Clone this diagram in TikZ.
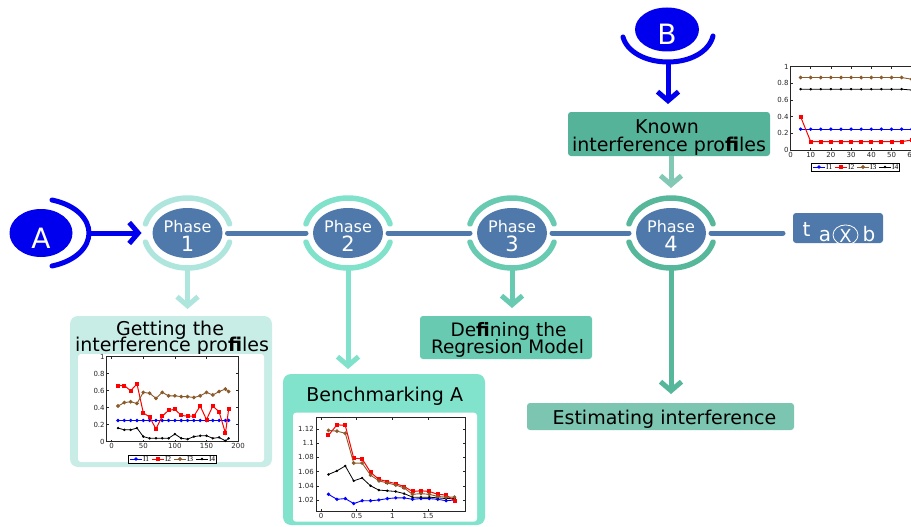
\documentclass[tikz,border=0pt]{standalone}
\usepackage{fontspec}
\setmainfont{DejaVu Sans}
\newfontfamily\legfont{Liberation Serif}
\usetikzlibrary{arrows.meta,calc,shapes.geometric,plotmarks}
\definecolor{steel}{HTML}{4E79AA}
\definecolor{ablue}{HTML}{0000EE}
\definecolor{cA}{HTML}{AEE6DD}
\definecolor{cAbox}{HTML}{C8EDE6}
\definecolor{cB}{HTML}{80E2CB}
\definecolor{cBbox}{HTML}{82E3CD}
\definecolor{cC}{HTML}{67CAB1}
\definecolor{cD}{HTML}{56B79B}
\definecolor{cDbox}{HTML}{7CC6B1}
\definecolor{knbox}{HTML}{55B399}
\definecolor{knarr}{HTML}{82C8B4}
\definecolor{brownc}{HTML}{8B5A2B}
\newcommand\fsz[1]{\fontsize{#1}{#1}\selectfont}
\tikzset{
  every node/.style={inner sep=0pt, outer sep=0pt},
  phase/.style={ellipse, fill=steel, minimum width=70pt, minimum height=50pt},
  phword/.style={text=white, font=\fsz{16}, anchor=base},
  phnum/.style={text=white, font=\fsz{21}, anchor=base},
  ringst/.style={line width=5.5pt, line cap=round},
  link/.style={draw=steel, line width=5pt, line cap=round},
  darr/.style={line width=5pt, -{Straight Barb[length=9pt,width=21pt]}},
  box/.style={rectangle, rounded corners=3pt},
  btxt/.style={text=black, font=\fsz{19}, anchor=base},
  tick/.style={text=black!85, font=\fsz{7}},
  frame/.style={draw=black!85, line width=0.7pt},
  tickl/.style={draw=black!85, line width=0.5pt},
  ser1/.style={blue, line width=0.9pt, mark=*, mark size=1.2pt},
  ser2/.style={red, line width=1pt, mark=square*, mark size=1.5pt},
  ser3/.style={brownc, line width=0.9pt, mark=*, mark size=1.4pt},
  ser4/.style={black, line width=0.8pt, mark=*, mark size=0.8pt},
}
\newcommand\drawlegend[3]{%
  \draw[line width=0.5pt, fill=white] (#1,#2-4) rectangle (#1+88,#2+4);
  \foreach \st/\lb [count=\k from 0] in {ser1/I1,ser2/I2,ser3/I3,ser4/I4}{
    \draw[\st] (#1+2+22*\k,#2) -- (#1+14+22*\k,#2);
    \draw[\st] plot coordinates {(#1+8+22*\k,#2)};
    \node[anchor=west, font=\legfont\fsz{7.5}] (#3\k) at (#1+15+22*\k,#2) {\lb};
  }%
}
\begin{document}
\begin{tikzpicture}[x=1pt,y=-1pt]
\clip (0,0) rectangle (911,527);
\fill[white] (0,0) rectangle (911,527);

% ---------- phases
\node[phase] (p1) at (187.5,233) {};
\node[phase] (p2) at (348,233) {};
\node[phase] (p3) at (512,233) {};
\node[phase] (p4) at (671,233) {};
\foreach \p/\c/\n in {p1/cA/1,p2/cB/2,p3/cC/3,p4/cD/4}{
  \draw[ringst, \c] ($(\p.center)+(42.02,-9.06)$) arc[start angle=15, end angle=165, x radius=43.5pt, y radius=35pt];
  \draw[ringst, \c] ($(\p.center)+(42.02,9.06)$) arc[start angle=-15, end angle=-165, x radius=43.5pt, y radius=35pt];
  \node[phword] (\p w) at ($(\p.center)+(0,-1)$) {Phase};
  \node[phnum] (\p n) at ($(\p.center)+(0,18)$) {\n};
}
\draw[link] ($(p1.east)+(5,0)$) -- ($(p2.west)+(-7,0)$);
\draw[link] ($(p2.east)+(5,0)$) -- ($(p3.west)+(-7,0)$);
\draw[link] ($(p3.east)+(5,0)$) -- ($(p4.west)+(-7,0)$);

% ---------- t a x b
\node[box, fill=steel, minimum width=90pt, minimum height=30pt] (tb) at (838,228) {};
\draw[link] ($(p4.east)+(5,0)$) -- ($(p4.east -| tb.west)+(-10,0)$);
\node[text=white, font=\fsz{20}, anchor=base] (tt) at (806.5,236.7) {t};
\node[text=white, font=\fsz{20}, anchor=base] (ta) at (825,241.7) {a};
\node[text=white, font=\fsz{18}, anchor=base] (tx) at (845.5,242.5) {X};
\draw[white, line width=0.8pt] (tx.center) ++(0,-1) ellipse [x radius=12.5pt, y radius=10pt];
\node[text=white, font=\fsz{20}, anchor=base] (tbv) at (869,241.7) {b};

% ---------- A
\node[ellipse, fill=ablue, minimum width=63pt, minimum height=48pt] (A) at (41,233) {};
\node[text=white, font=\fsz{28}, anchor=base] (At) at (41,248) {A};
\coordinate (Abr) at (89,233);
\draw[ablue, line width=5pt, line cap=round] (52,200) .. controls (76,205) and (89,219) .. (Abr) .. controls (89,247) and (76,261) .. (52,266);
\draw[darr, ablue] (Abr) -- ($(p1.center)+(-46,0)$);

% ---------- B
\node[ellipse, fill=ablue, minimum width=64pt, minimum height=44pt] (B) at (667,29.5) {};
\node[text=white, font=\fsz{28}, anchor=base] (Bt) at (667,45) {B};
\coordinate (Bbr) at (668,62);
\draw[ablue, line width=5pt, line cap=round] (623,37) .. controls (627,52) and (646,62) .. (Bbr) .. controls (690,62) and (709,52) .. (713,36);

% ---------- Known
\node[box, fill=knbox, minimum width=202pt, minimum height=44pt] (kn) at (669,134) {};
\node[btxt] (kn1) at (667,133.3) {Known};
\node[btxt] (kn2) at (669,151) {interference pro\textbf{fi}les};
\draw[darr, ablue] (Bbr) -- ($(Bbr |- kn.north)+(0,-8)$);
\draw[darr, knarr] (kn.south -| p4.center) -- ($(p4.center)+(0,-45)$);

% ---------- Getting box
\node[box, fill=cAbox, rounded corners=8pt, minimum width=202pt, minimum height=151pt] (gt) at (171,391.5) {};
\node[btxt] (gt1) at (170,335) {Getting the};
\node[btxt] (gt2) at (172,351.7) {interference pro\textbf{fi}les};
\node[box, fill=white, minimum width=186pt, minimum height=108pt] (gtw) at (171,408) {};
\draw[darr, cA] ($(p1.center)+(0,35)$) -- ($(p1.center |- gt.north)+(0,-7)$);

% ---------- Benchmarking box
\node[box, fill=cBbox, rounded corners=8pt, minimum width=202pt, minimum height=151pt] (bm) at (384,449.5) {};
\node[btxt] (bm1) at (384.7,401.7) {Benchmarking A};
\node[box, fill=white, minimum width=184pt, minimum height=109pt] (bmw) at (385,467.2) {};
\draw[darr, cB] ($(p2.center)+(0,35)$) -- ($(p2.center |- bm.north)+(0,-5)$);

% ---------- Defining box
\node[box, fill=cC, minimum width=172pt, minimum height=43pt] (df) at (506,337.5) {};
\node[btxt, font=\fsz{18.5}] (df1) at (508.5,336) {De\textbf{fi}ning the};
\node[btxt, font=\fsz{18.5}] (df2) at (507.5,353.3) {Regresion Model};
\draw[darr, cC] ($(p3.center)+(0,35)$) -- ($(p3.center |- df.north)+(0,-8)$);

% ---------- Estimating box
\node[box, fill=cDbox, minimum width=267pt, minimum height=27pt] (es) at (660.5,416.5) {};
\node[btxt] (es1) at (664.4,424) {Estimating interference};
\draw[darr, cD] ($(p4.center)+(0,35)$) -- ($(p4.center |- es.north)+(0,-9)$);

% ---------- chart 1
\begin{scope}[shift={(111.7,441.7)}, x=0.632pt, y=85pt]
  \draw[frame] (-8,0) rectangle (200,1);
  \foreach \xv in {0,50,100,150,200}{
    \draw[tickl] (\xv,0) -- ++(0,2pt); \draw[tickl] (\xv,1) -- ++(0,-2pt);
    \node[tick, below=2pt] (ca\xv) at (\xv,0) {\xv};}
  \foreach \yv [count=\k] in {0,0.2,0.4,0.6,0.8,1}{
    \draw[tickl] (-8,\yv) -- ++(2pt,0); \draw[tickl] (200,\yv) -- ++(-2pt,0);
    \node[tick, left=2pt] (cay\k) at (-8,\yv) {\yv};}
  \draw[ser1] plot[samples at={10,20,...,180,185}] (\x,0.25);
  \draw[ser2] plot coordinates {(10,0.66) (20,0.66) (30,0.60) (40,0.68) (50,0.34) (60,0.29) (70,0.15) (80,0.30) (90,0.37) (100,0.38) (110,0.31) (120,0.30) (130,0.30) (140,0.42) (150,0.26) (160,0.42) (170,0.35) (180,0.10) (185,0.38)};
  \draw[ser3] plot coordinates {(10,0.42) (20,0.46) (30,0.47) (40,0.45) (50,0.58) (60,0.57) (70,0.51) (80,0.58) (90,0.54) (100,0.54) (110,0.53) (120,0.53) (130,0.52) (140,0.54) (150,0.58) (160,0.55) (170,0.59) (180,0.62) (185,0.59)};
  \draw[ser4] plot coordinates {(10,0.16) (20,0.14) (30,0.14) (40,0.16) (50,0.06) (60,0.04) (70,0.04) (80,0.04) (90,0.04) (100,0.09) (110,0.04) (120,0.03) (130,0.06) (140,0.07) (150,0.07) (160,0.04) (170,0.05) (180,0.01) (185,0.04)};
\end{scope}
\drawlegend{128}{459}{lga}

% ---------- chart 2
\begin{scope}[shift={(321,1224.2)}, x=71.4pt, y=710pt]
  \draw[frame] (-0.06,1.0045) rectangle (2.02,1.136);
  \foreach \xv [count=\k] in {0,0.5,1,1.5}{
    \draw[tickl] (\xv,1.0045) -- ++(0,2pt); \draw[tickl] (\xv,1.136) -- ++(0,-2pt);
    \node[tick, below=2pt] (cbx\k) at (\xv,1.0045) {\xv};}
  \foreach \yv [count=\k] in {1.02,1.04,1.06,1.08,1.1,1.12}{
    \draw[tickl] (-0.06,\yv) -- ++(2pt,0); \draw[tickl] (2.02,\yv) -- ++(-2pt,0);
    \node[tick, left=3pt] (cby\k) at (-0.06,\yv) {\yv};}
  \draw[ser1] plot coordinates {(0.105,1.028) (0.223,1.021) (0.340,1.022) (0.458,1.015) (0.576,1.019) (0.694,1.019) (0.811,1.020) (0.929,1.022) (1.047,1.023) (1.164,1.023) (1.282,1.021) (1.400,1.022) (1.517,1.022) (1.635,1.021) (1.753,1.019) (1.870,1.020)};
  \draw[ser4] plot coordinates {(0.105,1.056) (0.223,1.061) (0.340,1.068) (0.458,1.047) (0.576,1.051) (0.694,1.040) (0.811,1.034) (0.929,1.033) (1.047,1.032) (1.164,1.029) (1.282,1.024) (1.400,1.024) (1.517,1.024) (1.635,1.023) (1.753,1.022) (1.870,1.022)};
  \draw[ser2] plot coordinates {(0.105,1.111) (0.223,1.126) (0.340,1.125) (0.458,1.079) (0.576,1.078) (0.694,1.059) (0.811,1.049) (0.929,1.046) (1.047,1.043) (1.164,1.039) (1.282,1.032) (1.400,1.033) (1.517,1.032) (1.635,1.028) (1.753,1.027) (1.870,1.019)};
  \draw[ser3] plot coordinates {(0.105,1.118) (0.223,1.117) (0.340,1.114) (0.458,1.072) (0.576,1.072) (0.694,1.055) (0.811,1.047) (0.929,1.044) (1.047,1.041) (1.164,1.037) (1.282,1.028) (1.400,1.029) (1.517,1.028) (1.635,1.025) (1.753,1.024) (1.870,1.024)};
\end{scope}

% ---------- chart 3
\begin{scope}[shift={(790.5,150)}, x=2.02pt, y=83.3pt]
  \draw[frame] (0,0) rectangle (70,1);
  \foreach \xv in {0,10,20,30,40,50,60}{
    \draw[tickl] (\xv,0) -- ++(0,2pt); \draw[tickl] (\xv,1) -- ++(0,-2pt);
    \node[tick, below=2pt] (ccx\xv) at (\xv,0) {\xv};}
  \foreach \yv [count=\k] in {0,0.2,0.4,0.6,0.8,1}{
    \draw[tickl] (0,\yv) -- ++(2pt,0);
    \node[tick, left=2pt] (ccy\k) at (0,\yv) {\yv};}
  \draw[ser1] plot[samples at={5,10,...,65}] (\x,0.25);
  \draw[ser2] plot coordinates {(5,0.40) (10,0.10) (15,0.10) (20,0.10) (25,0.10) (30,0.10) (35,0.10) (40,0.10) (45,0.10) (50,0.10) (55,0.10) (60,0.12) (65,0.12)};
  \draw[ser3] plot coordinates {(5,0.87) (10,0.87) (15,0.87) (20,0.87) (25,0.87) (30,0.87) (35,0.87) (40,0.87) (45,0.87) (50,0.87) (55,0.87) (60,0.85) (65,0.85)};
  \draw[ser4] plot coordinates {(5,0.73) (10,0.73) (15,0.73) (20,0.73) (25,0.73) (30,0.73) (35,0.73) (40,0.73) (45,0.73) (50,0.73) (55,0.73) (60,0.72) (65,0.72)};
\end{scope}
\drawlegend{811}{167}{lgc}
\end{tikzpicture}
\end{document}
